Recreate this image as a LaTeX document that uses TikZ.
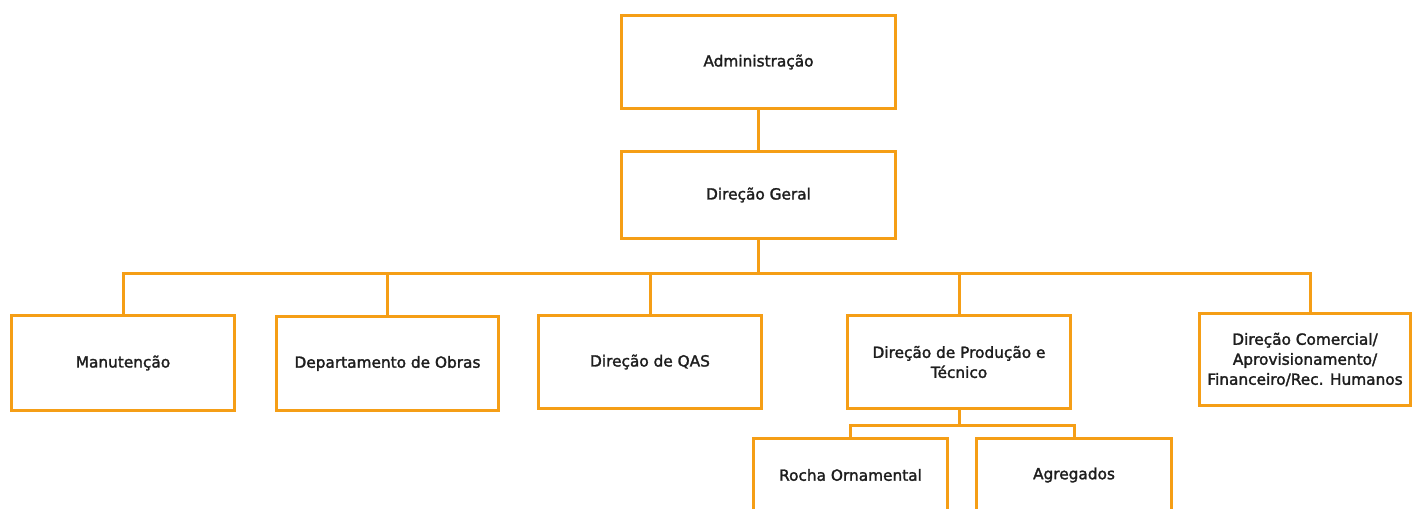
\documentclass[tikz,border=0pt]{standalone}
\usepackage{fontspec}
\setmainfont{DejaVu Sans}
\newfontfamily\boxfont[FakeBold=1.8]{DejaVu Sans}
\definecolor{orgline}{RGB}{245,158,22}
\definecolor{orgtext}{RGB}{30,30,30}

\begin{document}
\begin{tikzpicture}[x=0.75pt,y=-0.75pt,line width=2.25pt,
    box/.style={draw=orgline,fill=white,align=center,inner sep=2pt,text=orgtext,font=\boxfont\fontsize{11.5}{15}\selectfont},
    link/.style={draw=orgline,line width=2.25pt}]
   	\clip (0,0) rectangle (1414,508);
   	\node at (758.5,62) [box,minimum width=205.5pt,minimum height=69.75pt] (adm) {Administração};
   	\node at (758.5,195) [box,minimum width=205.5pt,minimum height=65.25pt] (dg) {Direção Geral};
   	\node at (123,363) [box,minimum width=167.25pt,minimum height=71.25pt] (man) {Manutenção};
   	\node at (387.5,363.5) [box,minimum width=166.5pt,minimum height=70.5pt] (obr) {Departamento de Obras};
   	\node at (650,362) [box,minimum width=167.25pt,minimum height=69.75pt] (qas) {Direção de QAS};
   	\node at (959,362) [box,minimum width=167.25pt,minimum height=69.75pt] (prod) {Direção de Produção e\\Técnico};
   	\node at (1305,359.5) [box,minimum width=158.25pt,minimum height=69pt] (com) {Direção Comercial/\\Aprovisionamento/\\Financeiro/Rec. Humanos};
   	\node at (850.5,475) [box,minimum width=145.5pt,minimum height=54.75pt] (rocha) {Rocha Ornamental};
   	\node at (1074,475) [box,minimum width=146.25pt,minimum height=54.75pt] (agr) {Agregados};
   	\coordinate (bus) at (758.5,273);
   	\coordinate (sub) at (959,425);
   	\draw[link] (adm.south) -- (dg.north) (dg.south) -- (bus);
   	\foreach \n in {man,obr,qas,prod}
   		\draw[link] (\n.north) |- (bus);
   	\draw[link] ([xshift=3.75pt]com.north) |- (bus);
   	\draw[link] (prod.south) -- (sub) (rocha.north) |- (sub) (agr.north) |- (sub);
\end{tikzpicture}
\end{document}
